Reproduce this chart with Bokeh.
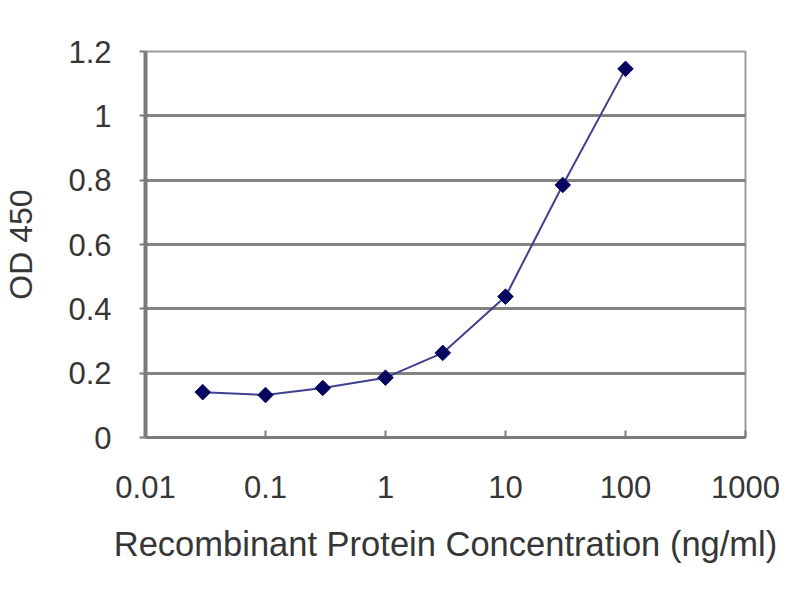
import math
from bokeh.plotting import figure
from bokeh.models import Range1d, FixedTicker
from bokeh.embed import file_html
from bokeh.resources import INLINE

# Data
concentration = [0.03, 0.1, 0.3, 1, 3, 10, 30, 100]
od450 = [0.141, 0.132, 0.154, 0.186, 0.263, 0.438, 0.785, 1.146]

x_ticks = [0.01, 0.1, 1, 10, 100, 1000]
x_tick_labels = ["0.01", "0.1", "1", "10", "100", "1000"]
y_ticks = [0, 0.2, 0.4, 0.6, 0.8, 1.0, 1.2]
y_tick_labels = ["0", "0.2", "0.4", "0.6", "0.8", "1", "1.2"]

x_title = "Recombinant Protein Concentration (ng/ml)"
y_title = "OD 450"

FONT = "Liberation Sans"
TEXT = "#363636"
GRID = "#828282"

p = figure(width=784, height=584, x_axis_type="log",
           x_range=Range1d(0.01, 1000), y_range=Range1d(0, 1.2),
           output_backend="svg", toolbar_location=None,
           min_border_left=145, min_border_right=39,
           min_border_top=51, min_border_bottom=147)

p.background_fill_color = "white"
p.border_fill_color = "white"
p.outline_line_color = "#9a9a9a"
p.outline_line_width = 2

p.xgrid.grid_line_color = None
p.ygrid.grid_line_color = GRID
p.ygrid.grid_line_width = 3
p.ygrid.ticker = FixedTicker(ticks=y_ticks)

# x axis
xa = p.xaxis[0]
xa.ticker = FixedTicker(ticks=x_ticks)
xa.major_label_overrides = {t: l for t, l in zip(x_ticks, x_tick_labels)}
xa.minor_tick_line_color = None
xa.major_tick_in = 7
xa.major_tick_out = 0
xa.major_tick_line_color = "#7a7a7a"
xa.major_tick_line_width = 2
xa.axis_line_color = "#7a7a7a"
xa.axis_line_width = 3
xa.major_label_text_font = FONT
xa.major_label_text_font_size = "31px"
xa.major_label_text_color = TEXT
xa.major_label_standoff = 38
xa.axis_label = x_title
xa.axis_label_text_font = FONT
xa.axis_label_text_font_size = "34.5px"
xa.axis_label_text_font_style = "normal"
xa.axis_label_text_color = TEXT
xa.axis_label_standoff = 24

# y axis
ya = p.yaxis[0]
ya.ticker = FixedTicker(ticks=y_ticks)
ya.major_label_overrides = {t: l for t, l in zip(y_ticks, y_tick_labels)}
ya.minor_tick_line_color = None
ya.major_tick_in = 0
ya.major_tick_out = 6
ya.major_tick_line_color = "#7a7a7a"
ya.major_tick_line_width = 2
ya.axis_line_color = "#7a7a7a"
ya.axis_line_width = 4
ya.major_label_text_font = FONT
ya.major_label_text_font_size = "31px"
ya.major_label_text_color = TEXT
ya.major_label_standoff = 28
ya.axis_label = y_title
ya.axis_label_text_font = FONT
ya.axis_label_text_font_size = "32px"
ya.axis_label_text_font_style = "normal"
ya.axis_label_text_color = TEXT
ya.axis_label_standoff = 26

p.line(concentration, od450, line_color="#40408f", line_width=2)
p.scatter(concentration, od450, marker="square", angle=math.pi / 4,
          size=11, fill_color="#06065e", line_color="#06065e")

open("out.html", "w").write(file_html(p, INLINE))
